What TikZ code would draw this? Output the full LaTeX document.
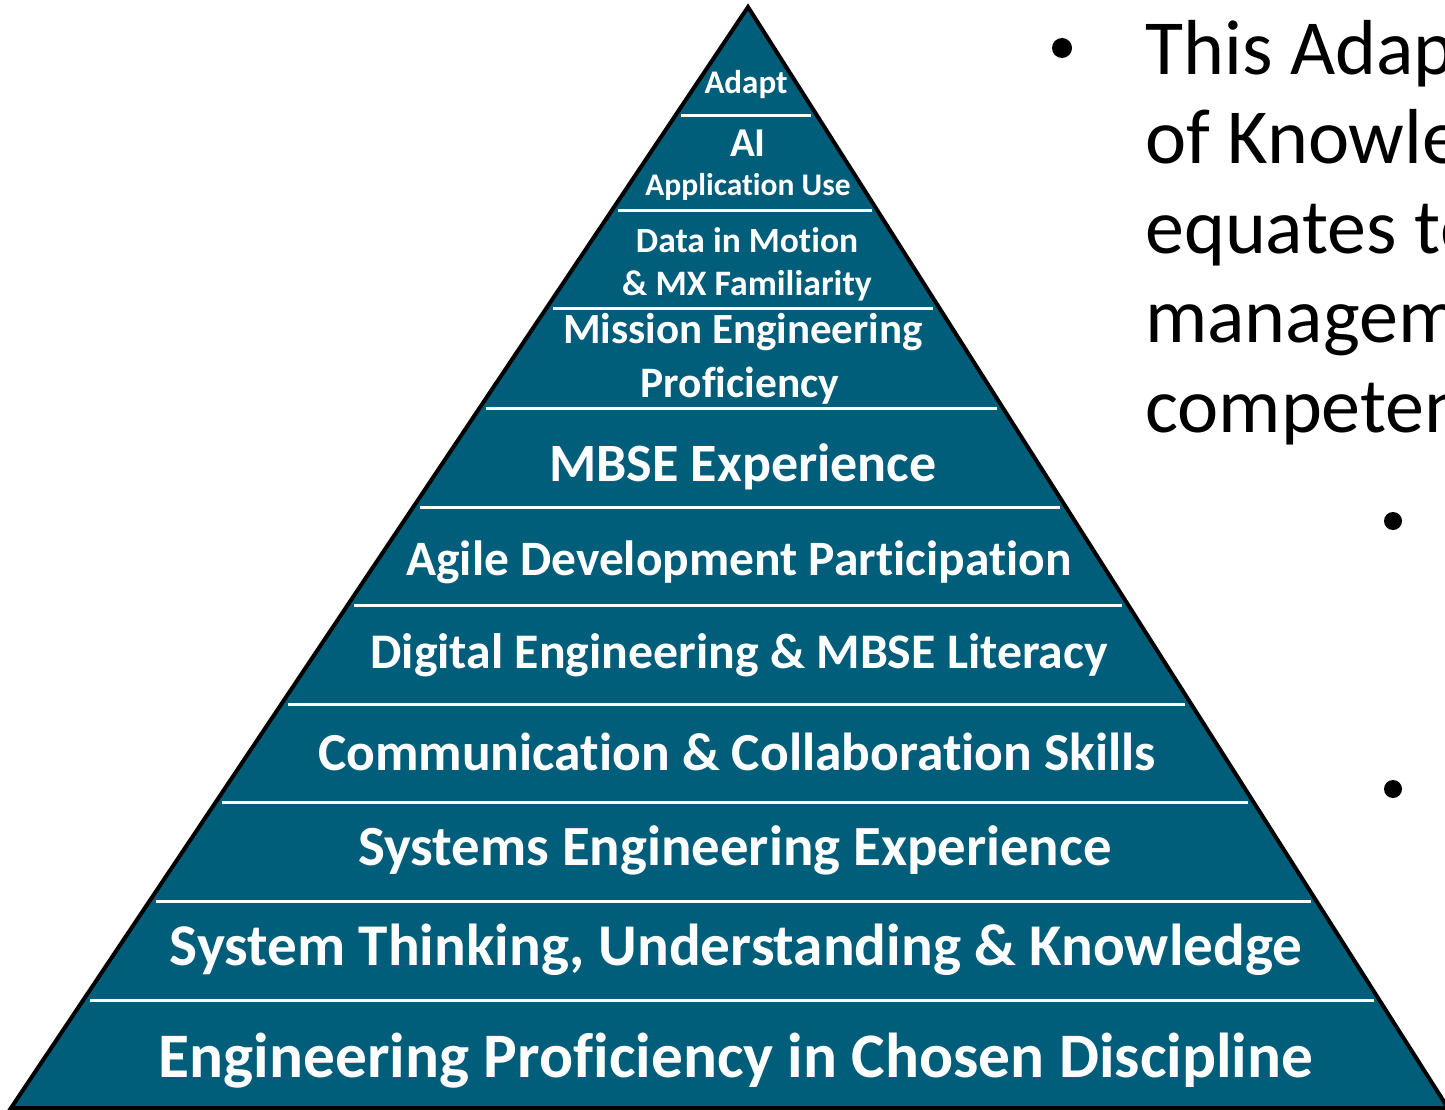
\documentclass[tikz,border=0pt]{standalone}
\usepackage{fontspec}
\setmainfont[Ligatures=NoCommon]{Carlito}
\usepackage{xcolor}
\usepackage{tikz}
\definecolor{pyrteal}{RGB}{0,94,122}

\tikzset{
  tier/.style={text=white, font=\bfseries, anchor=base, inner sep=0pt},
  sep/.style={white, line width=3pt},
  body/.style={anchor=base west, inner sep=0pt, font=\fontsize{78}{90}\selectfont}
}
\newcommand{\fs}[1]{\fontsize{#1}{#1}\selectfont}

\begin{document}
\begin{tikzpicture}[x=1pt, y=-1pt]
    \useasboundingbox (0,0) rectangle (1445,1110);
    \clip (0,0) rectangle (1445,1110);
    % pyramid
    \fill[pyrteal] (748,7) -- (11,1108) -- (1448,1108) -- cycle;
    \draw[black, line width=4pt, line join=miter] (748,7) -- (11,1108) -- (1448,1108) -- cycle;
    \foreach \yy in {116,211,308,408,507,605,704,802,901,1000}
        \draw[sep] ({748-0.669*(\yy-7)+6},\yy) -- ({748+0.636*(\yy-7)-6},\yy);
    % tiers, top to bottom
    \node[tier, font=\fs{33}\bfseries] (adapt) at (746,94) {Adapt};
    \node[tier, font=\fs{41}\bfseries] (ai) at (748,157) {AI};
    \node[tier, font=\fs{31.5}\bfseries] (appuse) at (748,196) {Application Use};
    \node[tier, font=\fs{35.5}\bfseries] (data) at (747,252) {Data in Motion};
    \node[tier, font=\fs{35.8}\bfseries] (mx) at (747,295) {\& MX Familiarity};
    \node[tier, font=\fs{43}\bfseries] (mission) at (743,343) {Mission Engineering};
    \node[tier, font=\fs{43.5}\bfseries] (prof) at (740,397) {Proficiency};
    \node[tier, font=\fs{54}\bfseries] (mbse) at (743,481) {MBSE Experience};
    \node[tier, font=\fs{49.5}\bfseries] (agile) at (739,575) {Agile Development Participation};
    \node[tier, font=\fs{49.8}\bfseries] (digital) at (739,668) {Digital Engineering \& MBSE Literacy};
    \node[tier, font=\fs{53.5}\bfseries] (comm) at (737,770) {Communication \& Collaboration Skills};
    \node[tier, font=\fs{56.8}\bfseries] (syseng) at (735,865) {Systems Engineering Experience};
    \node[tier, font=\fs{59.2}\bfseries] (systhink) at (736,965) {System Thinking, Understanding \& Knowledge};
    \node[tier, font=\fs{63.4}\bfseries] (engprof) at (736,1077) {Engineering Proficiency in Chosen Discipline};
    % bullet text, cut at the page edge
    \fill (1062,48) circle (10);
    \node[body] (t1) at (1145,75) {This Adapt};
    \node[body] (t2) at (1145,164) {of Knowle};
    \node[body] (t3) at (1145,253) {equates to};
    \node[body] (t4) at (1145,342) {managem};
    \node[body] (t5) at (1145,432) {competen};
    \fill (1393,521) circle (9);
    \fill (1393,789) circle (9);
\end{tikzpicture}
\end{document}
